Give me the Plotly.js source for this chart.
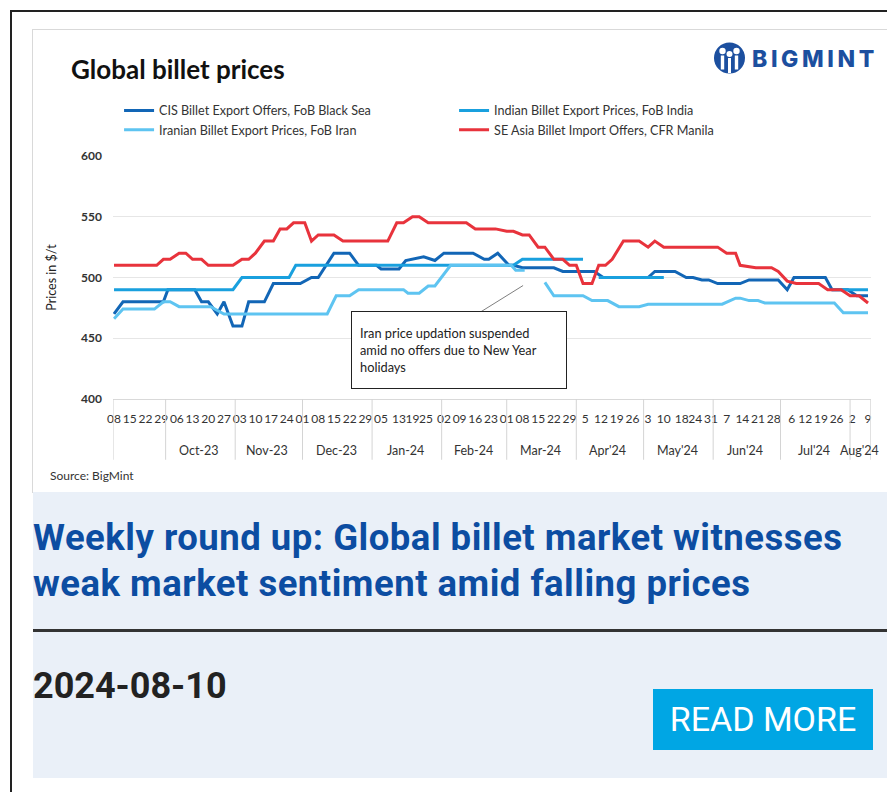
<!DOCTYPE html>
<html>
<head>
<meta charset="utf-8">
<script src="https://cdn.plot.ly/plotly-3.0.1.min.js"></script>
<style>
  html, body { margin:0; padding:0; background:#fff; width:887px; height:792px; overflow:hidden; }
  .frame { position:absolute; left:10px; top:10px; width:900px; height:800px; border-left:2px solid #222; border-top:2px solid #222; }
  .card { position:absolute; left:32px; top:29px; width:856px; height:462px; border:1px solid #d9d9d9; background:#fff; }
  #chart { position:absolute; left:0; top:0; width:856px; height:462px; }
  .logo { position:absolute; left:713px; top:42px; height:34px; display:flex; align-items:center; }
  .logo span { font-family:'Inter', sans-serif; font-weight:800; font-size:23px; letter-spacing:3.6px; color:#1c4f9f; margin-left:6px; }
  .news { position:absolute; left:33px; top:492px; width:860px; height:286px; background:#eaf0f8; }
  .headline { position:absolute; left:33px; top:515px; width:880px; font-family:'Roboto', sans-serif; font-weight:700; font-size:36.5px; line-height:46px; color:#0c4da2; letter-spacing:0.5px; white-space:nowrap; }
  .rule { position:absolute; left:33px; top:629px; width:860px; height:3px; background:#333; }
  .date { position:absolute; left:33px; top:666px; font-family:'Roboto', sans-serif; font-weight:700; font-size:36px; line-height:40px; color:#222; }
  .btn { position:absolute; left:653px; top:689px; width:220px; height:61px; background:#00a6e4; color:#fff; font-family:'Roboto', sans-serif; font-size:34px; line-height:61px; text-align:center; }
</style>
</head>
<body>
<div class="frame"></div>
<div class="card"><div id="chart"></div></div>
<div class="logo">
  <svg width="33" height="34" viewBox="0 0 33 34">
    <circle cx="16.5" cy="16" r="15.5" fill="#1c4f9f"/>
    <circle cx="9.5" cy="9" r="3.2" fill="#fff"/>
    <circle cx="23.5" cy="9" r="3.2" fill="#fff"/>
    <circle cx="16.5" cy="12" r="3" fill="#fff"/>
    <rect x="7.8" y="13.5" width="3.4" height="14" fill="#fff"/>
    <rect x="21.8" y="13.5" width="3.4" height="14" fill="#fff"/>
    <rect x="15" y="16" width="3" height="15" fill="#fff"/>
  </svg>
  <span>BIGMINT</span>
</div>
<div class="news"></div>
<div class="headline">Weekly round up: Global billet market witnesses<br>weak market sentiment amid falling prices</div>
<div class="rule"></div>
<div class="date">2024-08-10</div>
<div class="btn">READ MORE</div>

<script>
// ---------- data ----------
const seriesNames = [
  'CIS Billet Export Offers, FoB Black Sea',
  'Indian Billet Export Prices, FoB India',
  'Iranian Billet Export Prices, FoB Iran',
  'SE Asia Billet Import Offers, CFR Manila'
];

const cisDates = ['2023-09-08','2023-09-12','2023-09-30','2023-10-02','2023-10-14','2023-10-17','2023-10-20','2023-10-24','2023-10-27','2023-10-31','2023-11-04','2023-11-07','2023-11-14','2023-11-18','2023-11-30','2023-12-05','2023-12-08','2023-12-15','2023-12-22','2023-12-26','2024-01-03','2024-01-05','2024-01-13','2024-01-16','2024-01-24','2024-01-29','2024-02-02','2024-02-15','2024-02-20','2024-02-22','2024-02-26','2024-03-02','2024-03-04','2024-03-08','2024-03-22','2024-03-26','2024-04-09','2024-04-13','2024-05-03','2024-05-06','2024-05-15','2024-05-20','2024-05-23','2024-05-27','2024-05-30','2024-06-03','2024-06-13','2024-06-17','2024-06-30','2024-07-04','2024-07-07','2024-07-21','2024-07-24','2024-07-31','2024-08-04','2024-08-09'];
const cisValues = [470,480,480,490,490,480,480,470,480,460,460,480,480,495,495,500,500,520,520,510,510,507,507,514,517,514,520,520,515,515,520,510,510,508,508,505,505,500,500,505,505,500,500,498,498,495,495,498,498,490,500,500,490,490,485,485];

const indianDates = ['2023-09-08','2023-10-31','2023-11-04','2023-11-25','2023-11-28','2024-03-04','2024-03-08','2024-04-04','2024-04-07','2024-04-11','2024-05-10','2024-06-15','2024-07-24','2024-08-09'];
const indianValues = [490,490,500,500,510,510,515,515,null,500,500,null,490,490];

const iranDates = ['2023-09-08','2023-09-12','2023-09-26','2023-09-30','2023-10-03','2023-10-07','2023-10-21','2023-10-27','2023-12-12','2023-12-16','2023-12-22','2023-12-26','2024-01-15','2024-01-17','2024-01-22','2024-01-26','2024-01-29','2024-02-05','2024-03-03','2024-03-05','2024-03-09','2024-03-13','2024-03-18','2024-03-22','2024-04-04','2024-04-08','2024-04-15','2024-04-20','2024-04-29','2024-05-03','2024-06-05','2024-06-11','2024-06-13','2024-06-17','2024-06-21','2024-06-24','2024-07-25','2024-07-29','2024-08-09'];
const iranValues = [466,474,474,480,480,476,476,470,470,485,485,490,490,487,487,493,493,510,510,506,506,null,496,485,485,481,481,476,476,478,478,483,483,481,481,479,479,471,471];

const seaDates = ['2023-09-08','2023-09-27','2023-09-30','2023-10-03','2023-10-07','2023-10-10','2023-10-13','2023-10-17','2023-10-20','2023-10-31','2023-11-04','2023-11-07','2023-11-10','2023-11-14','2023-11-18','2023-11-21','2023-11-24','2023-11-27','2023-12-02','2023-12-05','2023-12-08','2023-12-15','2023-12-19','2024-01-08','2024-01-12','2024-01-15','2024-01-19','2024-01-22','2024-01-26','2024-02-12','2024-02-16','2024-02-25','2024-03-01','2024-03-04','2024-03-08','2024-03-11','2024-03-15','2024-03-18','2024-03-22','2024-03-26','2024-03-29','2024-04-01','2024-04-04','2024-04-08','2024-04-11','2024-04-14','2024-04-17','2024-04-22','2024-04-29','2024-05-03','2024-05-06','2024-05-10','2024-06-03','2024-06-07','2024-06-11','2024-06-13','2024-06-20','2024-06-27','2024-06-30','2024-07-04','2024-07-08','2024-07-18','2024-07-22','2024-07-28','2024-08-01','2024-08-05','2024-08-09'];
const seaValues = [510,510,515,515,520,520,515,515,510,510,515,515,520,530,530,540,540,545,545,530,535,535,530,530,545,545,550,550,545,545,540,540,538,538,535,535,525,525,515,515,510,510,495,495,510,510,515,530,530,525,530,525,525,520,520,510,508,508,505,497,495,495,490,490,485,485,479];

const tickDates = ['2023-09-08','2023-09-15','2023-09-22','2023-09-29','2023-10-06','2023-10-13','2023-10-20','2023-10-27','2023-11-03','2023-11-10','2023-11-17','2023-11-24','2023-12-01','2023-12-08','2023-12-15','2023-12-22','2023-12-29','2024-01-05','2024-01-13','2024-01-19','2024-01-25','2024-02-02','2024-02-09','2024-02-16','2024-02-23','2024-03-01','2024-03-08','2024-03-15','2024-03-22','2024-03-29','2024-04-05','2024-04-12','2024-04-19','2024-04-26','2024-05-03','2024-05-10','2024-05-18','2024-05-24','2024-05-31','2024-06-07','2024-06-14','2024-06-21','2024-06-28','2024-07-06','2024-07-12','2024-07-19','2024-07-26','2024-08-02','2024-08-09'];
const tickLabels = ['08','15','22','29','06','13','20','27','03','10','17','24','01','08','15','22','29','05','13','19','25','02','09','16','23','01','08','15','22','29','5','12','19','26','3','10','18','24','31','7','14','21','28','6','12','19','26','2','9'];

const monthLabels = ['Oct-23','Nov-23','Dec-23','Jan-24','Feb-24','Mar-24',"Apr'24","May'24","Jun'24","Jul'24","Aug'24"];
const monthCenters = ['2023-10-16','2023-11-15','2023-12-16','2024-01-16','2024-02-15','2024-03-16','2024-04-15','2024-05-16','2024-06-15','2024-07-16','2024-08-05'];
const monthBounds = ['2023-09-07 14:00','2023-10-01','2023-11-01','2023-12-01','2024-01-01','2024-02-01','2024-03-01','2024-04-01','2024-05-01','2024-06-01','2024-07-01','2024-08-01','2024-08-10 06:00'];

const colors = ['#1266b6','#19a0de','#5ec4f1','#e8333c'];

// ---------- chart ----------
const FONT = 'Lato, "Open Sans", sans-serif';
const xs = [cisDates, indianDates, iranDates, seaDates];
const ys = [cisValues, indianValues, iranValues, seaValues];
const traces = seriesNames.map((n, i) => ({
  type: 'scatter', mode: 'lines', name: n,
  x: xs[i], y: ys[i], connectgaps: false,
  line: { color: colors[i], width: 3 }
}));

const shapes = monthBounds.map(d => ({
  type: 'line', xref: 'x', yref: 'paper', x0: d, x1: d, y0: 0, y1: -0.25,
  line: { color: '#d4d4d4', width: 1 }
}));

const annotations = monthLabels.map((m, i) => ({
  xref: 'x', yref: 'paper', x: monthCenters[i], y: -0.21, yanchor: 'middle',
  text: m, showarrow: false, font: { family: FONT, size: 12.5, color: '#333' }
}));
annotations.push({
  xref: 'paper', yref: 'paper', x: -0.086, y: -0.316, xanchor: 'left', yanchor: 'middle',
  text: 'Source: BigMint', showarrow: false, font: { family: FONT, size: 12, color: '#333' }
});
// pointer line from the note box to the gap in the Iranian series
annotations.push({
  xref: 'x', yref: 'y', x: '2024-03-08 07:00', y: 493.4,
  ax: -45, ay: 28, axref: 'pixel', ayref: 'pixel',
  showarrow: true, arrowhead: 0, arrowwidth: 1, arrowcolor: '#7f7f7f',
  text: '', font: { size: 1 }, borderpad: 0, standoff: 0, startstandoff: 0
});
// note box
annotations.push({
  xref: 'x', yref: 'y', x: '2024-02-08 17:00', y: 440.2, xanchor: 'center', yanchor: 'middle',
  showarrow: false,
  text: 'Iran price updation suspended<br>amid no offers due to New Year<br>holidays',
  align: 'left', valign: 'middle', width: 198, height: 60, borderpad: 8,
  bordercolor: '#222', borderwidth: 1, bgcolor: '#fff',
  font: { family: FONT, size: 12.8, color: '#222' }
});

const layout = {
  width: 856, height: 462,
  margin: { l: 80, r: 18, t: 126, b: 93 },
  paper_bgcolor: '#fff', plot_bgcolor: '#fff',
  showlegend: true,
  title: { text: 'Global billet prices', x: 38/856, xanchor: 'left', y: 1 - 40/462, yanchor: 'middle',
           font: { family: FONT, size: 26, weight: 700, color: '#111' } },
  legend: { orientation: 'h', x: 0.008, xanchor: 'left', y: 1.248, yanchor: 'top',
            entrywidth: 290, entrywidthmode: 'pixels', traceorder: 'normal',
            font: { family: FONT, size: 12.6, color: '#333' }, bgcolor: 'rgba(0,0,0,0)' },
  xaxis: {
    type: 'date', range: ['2023-09-07 13:00', '2024-08-10 08:00'],
    tickmode: 'array', tickvals: tickDates, ticktext: tickLabels,
    ticks: 'outside', ticklen: 9, tickcolor: 'rgba(0,0,0,0)',
    tickangle: 0, showgrid: false, zeroline: false,
    showline: true, linecolor: '#d9d9d9', linewidth: 1,
    tickfont: { family: FONT, size: 12, color: '#333' }
  },
  yaxis: {
    range: [400, 600], tickvals: [400, 450, 500, 550, 600],
    showgrid: true, gridcolor: '#e6e6e6', gridwidth: 1, zeroline: false,
    ticks: '', ticklabelstandoff: 10,
    tickfont: { family: FONT, size: 12, weight: 700, color: '#333' },
    title: { text: 'Prices in $/t', standoff: 21, font: { family: FONT, size: 12.5, color: '#222' } }
  },
  shapes: shapes,
  annotations: annotations,
  hovermode: false
};

Plotly.newPlot('chart', traces, layout, { staticPlot: true, displayModeBar: false });
</script>
</body>
</html>
